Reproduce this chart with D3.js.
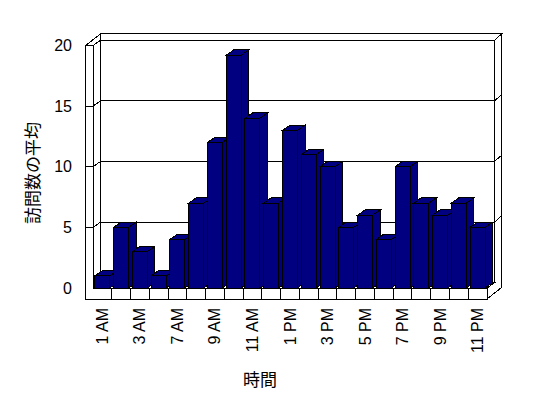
<!DOCTYPE html>
<html>
<head>
<meta charset="utf-8">
<script src="https://cdn.jsdelivr.net/npm/d3@7"></script>
<style>
  html, body { margin: 0; padding: 0; background: #ffffff; }
  svg { display: block; }
</style>
</head>
<body>
<svg id="chart" width="548" height="398"></svg>
<script>
const categories = ["1 AM","2 AM","3 AM","5 AM","7 AM","8 AM","9 AM","10 AM","11 AM","12 PM",
                    "1 PM","2 PM","3 PM","4 PM","5 PM","6 PM","7 PM","8 PM","9 PM","10 PM","11 PM"];
const values = [1,5,3,1,4,7,12,19.2,14,7,13,11,10,5,6,4,10,7,6,7,5];
const yTicks = [0,5,10,15,20];
const yTitle = "訪問数の平均";
const xTitle = "時間";

const svg = d3.select("#chart");
const X0 = 93, X1 = 487;
const x = d3.scaleBand().domain(categories).range([X0, X1]).paddingInner(0.2).paddingOuter(0.1);
const y = d3.scaleLinear().domain([0, 20]).range([288, 45.5]);
const D = {dx: 7.5, dy: -5.3};   // plot depth
const T = {dx: 7.3, dy: -6.4};   // wall thickness
const floorH = 11;
const step = (X1 - X0) / categories.length;

const line = d3.line();
const g = svg.append("g").attr("fill", "#ffffff").attr("stroke", "#000").attr("stroke-width", 1)
  .attr("shape-rendering", "crispEdges");
const yTop = y(20), yBot = y(0);
const LX = X0 - T.dx;

// back wall inner face
g.append("path").attr("d", line([[X0+D.dx, yTop+D.dy],[X1+D.dx, yTop+D.dy],[X1+D.dx, yBot+D.dy],[X0+D.dx, yBot+D.dy]]) + "Z");
// right side of back wall slab and floor
g.append("path").attr("d", line([[X1, yBot],[X1, yBot+floorH],[X1+D.dx+T.dx, yBot+floorH+D.dy+T.dy],
  [X1+D.dx+T.dx, yTop+D.dy+T.dy],[X1+D.dx, yTop+D.dy],[X1+D.dx, yBot+D.dy]]) + "Z");
// top of back wall slab
g.append("path").attr("d", line([[X0+D.dx, yTop+D.dy],[X1+D.dx, yTop+D.dy],[X1+D.dx+T.dx, yTop+D.dy+T.dy],[LX+D.dx+T.dx, yTop+D.dy+T.dy]]) + "Z");
// left wall top
g.append("path").attr("d", line([[LX, yTop],[X0, yTop],[X0+D.dx, yTop+D.dy],[LX+D.dx+T.dx, yTop+D.dy+T.dy]]) + "Z");
// left wall inner face
g.append("path").attr("d", line([[X0, yTop],[X0+D.dx, yTop+D.dy],[X0+D.dx, yBot+D.dy],[X0, yBot]]) + "Z");
// floor top
g.append("path").attr("d", line([[X0, yBot],[X1, yBot],[X1+D.dx, yBot+D.dy],[X0+D.dx, yBot+D.dy]]) + "Z");
// front L: left wall front face + floor front face
g.append("path").attr("d", line([[LX, yTop],[X0, yTop],[X0, yBot],[X1, yBot],[X1, yBot+floorH],[LX, yBot+floorH]]) + "Z");

// gridlines
const gl = svg.append("g").attr("stroke", "#000").attr("fill", "none").attr("shape-rendering", "crispEdges");
yTicks.filter(v => v > 0 && v < 20).forEach(v => {
  const yy = y(v);
  gl.append("path").attr("d", line([[LX, yy],[X0, yy],[X0+D.dx, yy+D.dy],[X1+D.dx, yy+D.dy],[X1+D.dx+T.dx, yy+D.dy+T.dy]]));
});
// floor category dividers
d3.range(1, categories.length).forEach(i => {
  const xx = X0 + i * step;
  gl.append("line").attr("x1", xx).attr("x2", xx).attr("y1", yBot).attr("y2", yBot + floorH);
});

// bars
const bw = x.bandwidth();
const bars = svg.append("g").attr("fill", "#000080").attr("stroke", "#000").attr("stroke-width", 1)
  .attr("shape-rendering", "crispEdges");
categories.forEach((c, i) => {
  const v = values[i];
  const bx = x(c), by = y(v);
  const bg = bars.append("g");
  bg.append("path").attr("d", line([[bx+bw, by],[bx+bw+D.dx, by+D.dy],[bx+bw+D.dx, yBot+D.dy],[bx+bw, yBot]]) + "Z");
  bg.append("path").attr("d", line([[bx, by],[bx+bw, by],[bx+bw+D.dx, by+D.dy],[bx+D.dx, by+D.dy]]) + "Z");
  bg.append("rect").attr("x", bx).attr("y", by).attr("width", bw).attr("height", yBot - by);
});

// y tick labels
svg.append("g").selectAll("text").data(yTicks).join("text")
  .attr("x", 72).attr("y", d => y(d)).attr("text-anchor", "end").attr("dominant-baseline", "central")
  .attr("font-family", "Liberation Sans, Arial, sans-serif").attr("font-size", 16).attr("fill", "#000")
  .text(d => d);

// x tick labels (every other category)
svg.append("g").selectAll("text").data(categories.filter((c, i) => i % 2 === 0)).join("text")
  .attr("transform", d => `translate(${x(d) + bw / 2},308) rotate(-90)`)
  .attr("text-anchor", "end").attr("dominant-baseline", "central")
  .attr("font-family", "Liberation Sans, Arial, sans-serif").attr("font-size", 16).attr("fill", "#000")
  .text(d => d);

// axis titles
svg.append("text").attr("transform", "translate(31,173) rotate(-90)")
  .attr("text-anchor", "middle").attr("dominant-baseline", "central")
  .attr("font-family", "Noto Sans CJK JP, sans-serif").attr("font-size", 17).attr("fill", "#000")
  .text(yTitle);
svg.append("text").attr("x", 260).attr("y", 378)
  .attr("text-anchor", "middle").attr("dominant-baseline", "central")
  .attr("font-family", "Noto Sans CJK JP, sans-serif").attr("font-size", 17).attr("fill", "#000")
  .text(xTitle);
</script>
</body>
</html>
